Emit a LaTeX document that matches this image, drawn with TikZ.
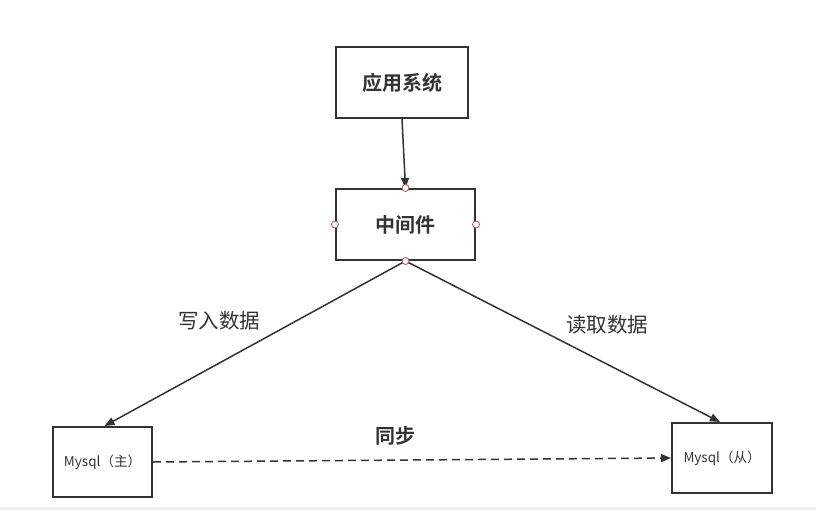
\documentclass[tikz,border=0pt]{standalone}
\usepackage{fontspec}
\setmainfont{Noto Sans CJK SC}[BoldFont={Noto Sans CJK SC Bold}]
\usetikzlibrary{arrows.meta,calc}
\definecolor{ink}{HTML}{333333}
\definecolor{pt}{HTML}{B05050}
\begin{document}
\begin{tikzpicture}[x=1pt,y=-1pt,
  box/.style={draw=ink,line width=2pt,fill=white,text=ink,inner sep=0pt},
  bigbox/.style={box,minimum width=132pt,minimum height=71pt,font=\bfseries\fontsize{20}{22}\selectfont},
  dbbox/.style={box,minimum width=99pt,minimum height=70pt,font=\fontsize{13.5}{15}\selectfont},
  conn/.style={draw=ink,line width=1.5pt,-{Triangle[length=10pt,width=8pt]}},
  lbl/.style={text=ink,font=\fontsize{20.5}{22}\selectfont},
  port/.style={circle,draw=pt,fill=white,line width=0.8pt,minimum size=7pt,inner sep=0pt}]
\useasboundingbox (0,0) rectangle (816,510);
\fill[white] (0,0) rectangle (816,510);
\fill[black!6] (0,507) rectangle (816,510);
\node[bigbox] (app) at (402,82.5) {应用系统};
\node[bigbox,minimum width=139pt] (mid) at (405.5,224.5) {中间件};
\node[dbbox] (master) at (102.5,462) {Mysql（主）};
\node[dbbox,minimum width=100pt] (slave) at (722,458) {Mysql（从）};
\coordinate (mtop) at ($(master.north)+(2,0)$);
\coordinate (stop) at ($(slave.north)+(-2,0)$);
\draw[conn] (app.south) -- (mid.north);
\draw[conn] (mid.south) -- (mtop);
\draw[conn] (mid.south) -- (stop);
\draw[conn,dash pattern=on 8pt off 5pt] (master.east) -- (slave.west);
\node[port] (p1) at (mid.north) {};
\node[port] (p2) at (mid.west) {};
\node[port] (p3) at (mid.east) {};
\node[port] (p4) at (mid.south) {};
\node[lbl] (w) at (219,321) {写入数据};
\node[lbl] (r) at (607,325) {读取数据};
\node[lbl,font=\bfseries\fontsize{20}{22}\selectfont] (s) at (395,436) {同步};
\end{tikzpicture}
\end{document}
